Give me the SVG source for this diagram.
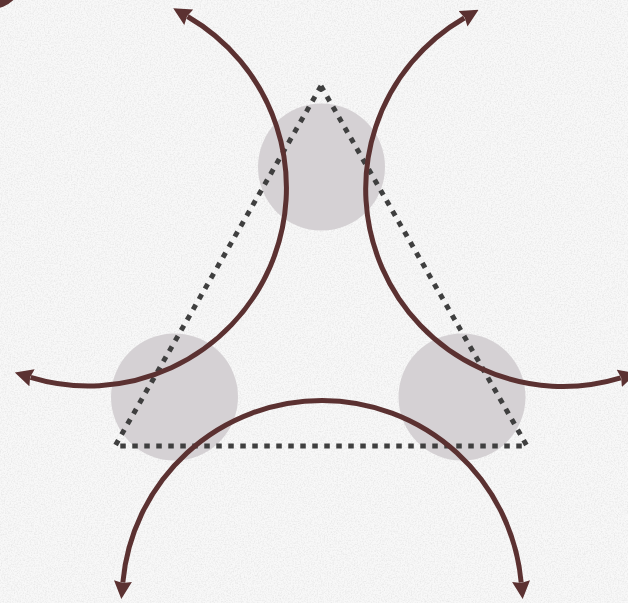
<svg xmlns="http://www.w3.org/2000/svg" width="628" height="603" viewBox="0 0 628 603">
  <defs>
    <filter id="paper" x="0" y="0" width="100%" height="100%">
      <feTurbulence type="fractalNoise" baseFrequency="0.7" numOctaves="3" seed="4" result="n"/>
      <feColorMatrix in="n" type="matrix" values="0 0 0 0 0.55  0 0 0 0 0.55  0 0 0 0 0.55  0 0 0 -1.4 0.85" result="g"/>
      <feComposite in="g" in2="SourceGraphic" operator="in"/>
    </filter>
    <marker id="arrow" viewBox="0 0 18 18" refX="1.5" refY="9" markerWidth="18" markerHeight="18" markerUnits="userSpaceOnUse" orient="auto-start-reverse">
      <path d="M0,0 L18,9 L0,18 L2,9 Z" fill="#5b3131"/>
    </marker>
    <style>
      .node { fill: #d5d1d4; }
      .tri { fill: none; stroke: #3f3f3f; stroke-width: 5; stroke-dasharray: 5.5 6.5; }
      .arc { fill: none; stroke: #5b3131; stroke-width: 5; marker-start: url(#arrow); marker-end: url(#arrow); }
    </style>
  </defs>
  <rect width="628" height="603" fill="#f8f8f8"/>
  <rect width="628" height="603" fill="#f8f8f8" filter="url(#paper)" opacity="0.45"/>
  <circle cx="-10" cy="-25" r="34.3" fill="#5b3131"/>

  <g id="node-top"><circle class="node" cx="321.5" cy="167" r="63.5"/></g>
  <g id="node-left"><circle class="node" cx="174.5" cy="397" r="63.5"/></g>
  <g id="node-right"><circle class="node" cx="462" cy="397" r="63.5"/></g>

  <g id="triangle"><polygon class="tri" points="321,86 527,446 115,446"/></g>

  <g id="connectors">
    <path class="arc" d="M187.5,16.5 A198,198 0 0 1 30.6,377.3"/>
    <path class="arc" d="M464.3,18 A197.5,197.5 0 0 0 620.7,377.9"/>
    <path class="arc" d="M122.8,582.6 A200,200 0 0 1 521.2,582.6"/>
  </g>
</svg>
